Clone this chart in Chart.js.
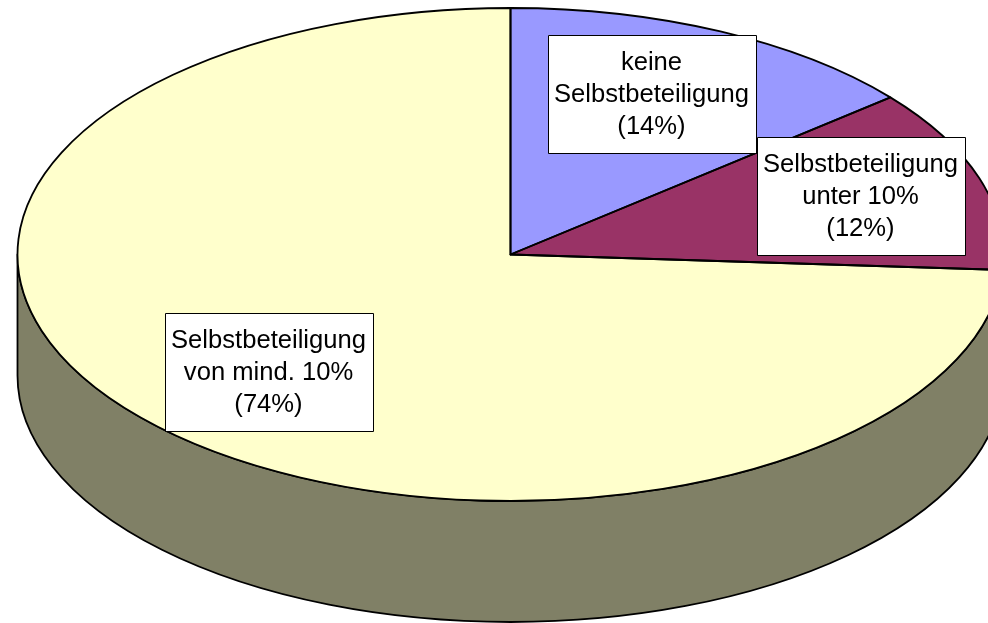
<!DOCTYPE html>
<html>
<head>
<meta charset="utf-8">
<script src="https://cdn.jsdelivr.net/npm/chart.js@4.4.0/dist/chart.umd.min.js"></script>
<style>
html, body { margin: 0; padding: 0; background: #fff; }
#wrap { width: 988px; height: 623px; position: relative; }
</style>
</head>
<body>
<div id="wrap"><canvas id="pie"></canvas></div>
<script>
// ── Data ──
const categories = [
    ['keine', 'Selbstbeteiligung'],
    ['Selbstbeteiligung', 'unter 10%'],
    ['Selbstbeteiligung', 'von mind. 10%']
];
const shares = [14, 12, 74];
const sliceColors = ['#9999FF', '#993366', '#FFFFCC'];
const sideColors = ['#4C4C80', '#4C1933', '#808066'];

// ── Layout of the tilted disc and the label boxes ──
const disc = { x: 510.5, y: 254.5, rx: 493, ry: 246.5, depth: 121 };
const labelBoxes = [
    { x: 651.5, y: 94 },
    { x: 860.5, y: 195.5 },
    { x: 268.5, y: 371.5 }
];
const boxW = 208, boxH = 118, lineGap = 32;
const edgeWidth = 1.8;

// side wall between two angles (circle angles, mapped onto the ellipse)
function wallPath(ctx, a1, a2) {
    ctx.beginPath();
    ctx.ellipse(disc.x, disc.y, disc.rx, disc.ry, 0, a1, a2);
    ctx.lineTo(disc.x + disc.rx * Math.cos(a2), disc.y + disc.depth + disc.ry * Math.sin(a2));
    ctx.ellipse(disc.x, disc.y + disc.depth, disc.rx, disc.ry, 0, a2, a1, true);
    ctx.closePath();
}

const tiltPlugin = {
    id: 'tilt',
    beforeDatasetsDraw(chart) {
        const ctx = chart.ctx;
        const arcs = chart.getDatasetMeta(0).data;

        // front walls: only the lower half of the rim is visible
        ctx.save();
        ctx.lineWidth = edgeWidth;
        ctx.strokeStyle = '#000';
        ctx.lineJoin = 'round';
        arcs.forEach((arc, i) => {
            [-2 * Math.PI, 0, 2 * Math.PI].forEach(shift => {
                const a1 = Math.max(arc.startAngle + shift, 0);
                const a2 = Math.min(arc.endAngle + shift, Math.PI);
                if (a2 - a1 <= 1e-4) return;
                wallPath(ctx, a1, a2);
                ctx.fillStyle = sideColors[i];
                ctx.fill();
                ctx.stroke();
            });
        });
        ctx.restore();

        // squash the library's circle into the disc's top face
        const a0 = arcs[0];
        ctx.save();
        ctx.translate(disc.x, disc.y);
        ctx.scale(disc.rx / a0.outerRadius, disc.ry / a0.outerRadius);
        ctx.translate(-a0.x, -a0.y);
    },
    afterDatasetsDraw(chart) {
        const ctx = chart.ctx;
        ctx.restore();
        const arcs = chart.getDatasetMeta(0).data;

        // outlines of the top face, stroked untransformed
        ctx.save();
        ctx.lineWidth = edgeWidth;
        ctx.strokeStyle = '#000';
        ctx.lineJoin = 'round';
        arcs.forEach(arc => {
            ctx.beginPath();
            ctx.moveTo(disc.x, disc.y);
            ctx.ellipse(disc.x, disc.y, disc.rx, disc.ry, 0, arc.startAngle, arc.endAngle);
            ctx.closePath();
            ctx.stroke();
        });

        // label boxes
        ctx.font = '25.6px "Liberation Sans", Arial, sans-serif';
        ctx.textAlign = 'center';
        ctx.textBaseline = 'middle';
        labelBoxes.forEach((b, i) => {
            const left = Math.round(b.x - boxW / 2);
            const top = Math.round(b.y - boxH / 2);
            ctx.fillStyle = '#fff';
            ctx.fillRect(left, top, boxW, boxH);
            ctx.lineWidth = 1;
            ctx.strokeStyle = '#000';
            ctx.strokeRect(left + 0.5, top + 0.5, boxW, boxH);
            const lines = [...categories[i], `(${shares[i]}%)`];
            ctx.fillStyle = '#000';
            lines.forEach((t, j) => ctx.fillText(t, b.x, b.y + (j - 1) * lineGap + 1));
        });
        ctx.restore();
    }
};

new Chart(document.getElementById('pie'), {
    type: 'pie',
    data: {
        labels: categories.map(c => c.join(' ')),
        datasets: [{
            data: shares,
            backgroundColor: sliceColors,
            borderWidth: 0,
            clip: false
        }]
    },
    options: {
        responsive: true,
        maintainAspectRatio: false,
        animation: false,
        events: [],
        layout: { padding: 0 },
        plugins: {
            legend: { display: false },
            tooltip: { enabled: false }
        }
    },
    plugins: [tiltPlugin]
});
</script>
</body>
</html>
